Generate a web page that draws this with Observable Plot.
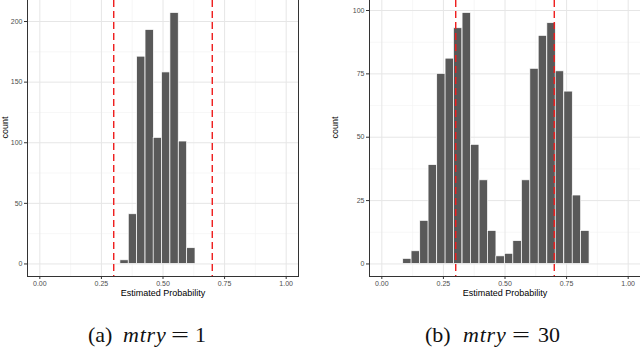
<!DOCTYPE html>
<html>
<head>
<meta charset="utf-8">
<script src="https://cdn.jsdelivr.net/npm/d3@7"></script>
<script src="https://cdn.jsdelivr.net/npm/@observablehq/plot@0.6"></script>
<style>
  html, body { margin: 0; padding: 0; background: white; }
  #wrap { position: relative; width: 640px; height: 351px; overflow: hidden; background: white; }
  .panel { position: absolute; top: 0; }
  .cap { position: absolute; top: 324px; font-family: "Liberation Serif", serif; font-size: 22px; line-height: 22px; color: #111; white-space: nowrap; }
  .cap i { font-style: italic; letter-spacing: 0.8px; }
  .cap.eq { transform: scaleX(1.45); transform-origin: left center; }
</style>
</head>
<body>
<div id="wrap">
  <div id="left" class="panel" style="left:0px"></div>
  <div id="right" class="panel" style="left:330px"></div>
  <span class="cap" style="left:88px">(a)</span>
  <span class="cap" style="left:123px"><i>mtry</i></span>
  <span class="cap eq" style="left:171px">=</span>
  <span class="cap" style="left:195px">1</span>
  <span class="cap" style="left:425px">(b)</span>
  <span class="cap" style="left:463px"><i>mtry</i></span>
  <span class="cap eq" style="left:512px">=</span>
  <span class="cap" style="left:538px">30</span>
</div>
<script>
// ---- data ----
const leftBinCenters = [0.344, 0.378, 0.412, 0.446, 0.479, 0.513, 0.547, 0.581, 0.615];
const leftCounts = [3, 41, 171, 193, 104, 158, 207, 101, 13];
const leftBinWidth = 0.0338;
const leftYTicks = [0, 50, 100, 150, 200];
const leftYMinor = [25, 75, 125, 175];

const rightBinCenters = [0.104, 0.138, 0.173, 0.207, 0.242, 0.276, 0.310, 0.345, 0.379, 0.414, 0.448,
                         0.482, 0.517, 0.551, 0.586, 0.620, 0.654, 0.689, 0.723, 0.758, 0.792, 0.826];
const rightCounts = [2, 5, 17, 39, 75, 81, 93, 99, 47, 33, 13, 3, 4, 9, 33, 77, 90, 95, 76, 68, 27, 13];
const rightBinWidth = 0.0344;
const rightYTicks = [0, 25, 50, 75, 100];
const rightYMinor = [12.5, 37.5, 62.5, 87.5];

const xTicks = [0, 0.25, 0.5, 0.75, 1];
const xMinor = [0.125, 0.375, 0.625, 0.875];
const refLines = [0.3, 0.7];
const xLabel = "Estimated Probability";
const yLabel = "count";

function panel({width, marginLeft, marginRight, centers, counts, binW, yTicks, yMinor, borders}) {
  const data = centers.map((c, i) => ({x1: c - binW / 2, x2: c + binW / 2, count: counts[i]}));
  const yMax = d3.max(counts);
  return Plot.plot({
    width, height: 300,
    marginLeft, marginRight, marginTop: 0, marginBottom: 24,
    x: {domain: [-0.05, 1.05]},
    y: {domain: [-0.05 * yMax, 1.05 * yMax]},
    style: {fontFamily: "'Liberation Sans', Arial, sans-serif", fontSize: "7px", color: "#4d4d4d", background: "white", overflow: "visible"},
    marks: [
      Plot.gridX(xMinor, {stroke: "#f2f2f2", strokeOpacity: 1, strokeWidth: 0.6}),
      Plot.gridY(yMinor, {stroke: "#f2f2f2", strokeOpacity: 1, strokeWidth: 0.6}),
      Plot.gridX(xTicks, {stroke: "#e6e6e6", strokeOpacity: 1, strokeWidth: 1}),
      Plot.gridY(yTicks, {stroke: "#e6e6e6", strokeOpacity: 1, strokeWidth: 1}),
      Plot.rectY(data, {x1: "x1", x2: "x2", y: "count", fill: "#595959", stroke: "white", strokeWidth: 0.7}),
      Plot.ruleX(refLines, {stroke: "#ee1c1c", strokeWidth: 1.4, strokeDasharray: "7,4"}),
      ...borders.map(a => Plot.frame({anchor: a, stroke: "#333333", strokeWidth: 1})),
      Plot.axisX(xTicks, {tickSize: 3, tickPadding: 2, tickFormat: d3.format(".2f"), label: null, stroke: "#333", fill: "#4d4d4d"}),
      Plot.axisY(yTicks, {tickSize: 3, tickPadding: 2, label: null, stroke: "#333", fill: "#4d4d4d"}),
      Plot.text([xLabel], {frameAnchor: "bottom", dy: 19, fontSize: 9, fill: "black"}),
      Plot.text([yLabel], {frameAnchor: "left", dx: -marginLeft + 5, rotate: -90, fontSize: 9, fill: "black"})
    ]
  });
}

document.getElementById("left").appendChild(panel({
  width: 300, marginLeft: 27, marginRight: 2,
  centers: leftBinCenters, counts: leftCounts, binW: leftBinWidth, yTicks: leftYTicks, yMinor: leftYMinor,
  borders: ["left", "bottom", "right"]
}));
document.getElementById("right").appendChild(panel({
  width: 310, marginLeft: 39, marginRight: 0,
  centers: rightBinCenters, counts: rightCounts, binW: rightBinWidth, yTicks: rightYTicks, yMinor: rightYMinor,
  borders: ["left", "bottom"]
}));
</script>
</body>
</html>
